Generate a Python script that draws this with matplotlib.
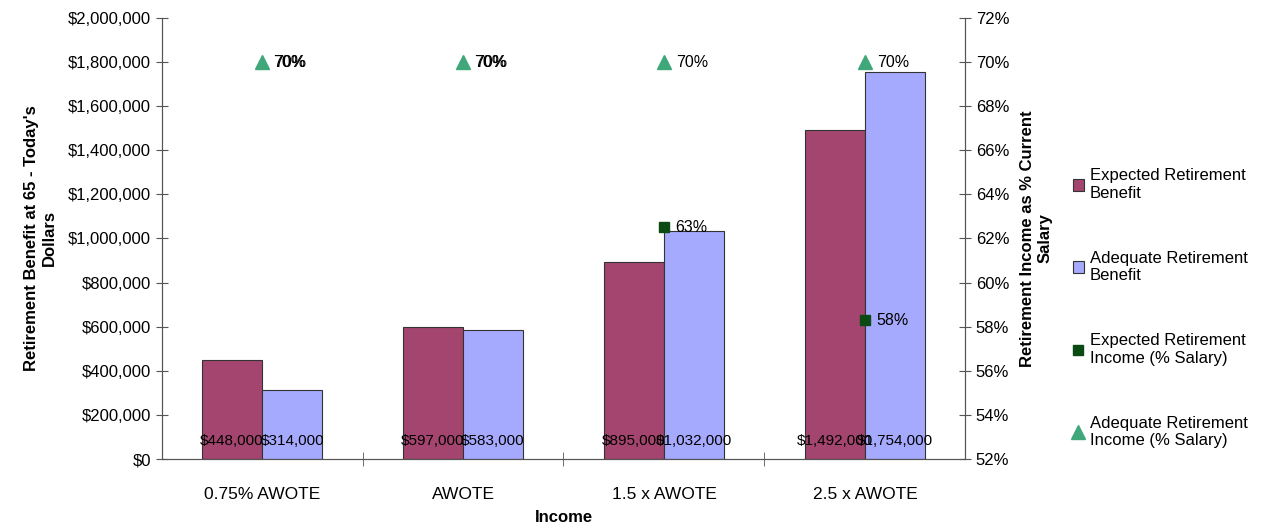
import matplotlib
import matplotlib.pyplot as plt
import numpy as np
from matplotlib.ticker import FuncFormatter, FixedLocator

matplotlib.use("Agg")
plt.rcParams["font.family"] = ["Liberation Sans", "DejaVu Sans"]

categories = ["0.75% AWOTE", "AWOTE", "1.5 x AWOTE", "2.5 x AWOTE"]
expected_benefit = [448000, 597000, 895000, 1492000]
adequate_benefit = [314000, 583000, 1032000, 1754000]
expected_income = [70, 70, 62.5, 58.3]
adequate_income = [70, 70, 70, 70]
expected_labels = ["70%", "70%", "63%", "58%"]
adequate_labels = ["70%", "70%", "70%", "70%"]

RED = "#A4456F"
BLUE = "#A6AAFF"
DKGREEN = "#0B4A12"
GREEN = "#3FA77A"
AXC = "#555555"

x = np.arange(len(categories))
w = 0.3

fig = plt.figure(figsize=(12.62, 5.27), dpi=100)
ax = fig.add_axes([0.128, 0.129, 0.637, 0.837])
ax2 = ax.twinx()

ax.bar(x - w / 2, expected_benefit, w, color=RED, edgecolor="#333333", linewidth=0.8,
       label="Expected Retirement\nBenefit")
ax.bar(x + w / 2, adequate_benefit, w, color=BLUE, edgecolor="#333333", linewidth=0.8,
       label="Adequate Retirement\nBenefit")
for i in range(len(x)):
    ax.text(x[i] - w / 2, 80000, f"${expected_benefit[i]:,}", ha="center", va="center", fontsize=11)
    ax.text(x[i] + w / 2, 80000, f"${adequate_benefit[i]:,}", ha="center", va="center", fontsize=11)

ax.set_xlim(-0.5, 3.5)
ax.set_ylim(0, 2000000)
ax.set_yticks(np.arange(0, 2000001, 200000))
ax.yaxis.set_major_formatter(FuncFormatter(lambda v, p: f"${int(v):,}"))
ax.set_xticks(x)
ax.set_xticklabels(categories, fontsize=12.5)
ax.xaxis.set_minor_locator(FixedLocator([0.5, 1.5, 2.5]))
ax.tick_params(axis="x", which="major", length=0, pad=20)
ax.tick_params(axis="x", which="minor", direction="inout", length=10, color=AXC)
ax.tick_params(axis="y", direction="inout", length=8, color=AXC, labelsize=12)

# where expected income equals adequate income the square sits hidden under the triangle
exp_shown = [e if e != a else np.nan for e, a in zip(expected_income, adequate_income)]
ax2.plot(x, exp_shown, linestyle="none", marker="s", markersize=7, color=DKGREEN,
         label="Expected Retirement\nIncome (% Salary)")
ax2.plot(x, adequate_income, linestyle="none", marker="^", markersize=10, color=GREEN,
         label="Adequate Retirement\nIncome (% Salary)")
for i in range(len(x)):
    ax2.text(x[i] + 0.055, expected_income[i], expected_labels[i], ha="left", va="center", fontsize=11.5)
    ax2.text(x[i] + 0.06, adequate_income[i], adequate_labels[i], ha="left", va="center", fontsize=11.5)
ax2.set_ylim(52, 72)
ax2.set_yticks(np.arange(52, 73, 2))
ax2.yaxis.set_major_formatter(FuncFormatter(lambda v, p: f"{int(v)}%"))
ax2.tick_params(axis="y", direction="inout", length=8, color=AXC, labelsize=12)

for a in (ax, ax2):
    a.spines["top"].set_visible(False)
    for s in ("left", "right", "bottom"):
        a.spines[s].set_color(AXC)

ax.set_ylabel("Retirement Benefit at 65 - Today's\nDollars", fontsize=12, fontweight="bold", labelpad=8)
ax2.set_ylabel("Retirement Income as % Current\nSalary", fontsize=12, fontweight="bold", labelpad=8)
ax.set_xlabel("Income", fontsize=12, fontweight="bold", labelpad=6)

h1, l1 = ax.get_legend_handles_labels()
h2, l2 = ax2.get_legend_handles_labels()
fig.legend(h1 + h2, l1 + l2, loc="center left", bbox_to_anchor=(0.838, 0.415), frameon=False,
           fontsize=12, labelspacing=3.0, handlelength=0.7, handletextpad=0.35)

fig.savefig("out.png", dpi=100)
